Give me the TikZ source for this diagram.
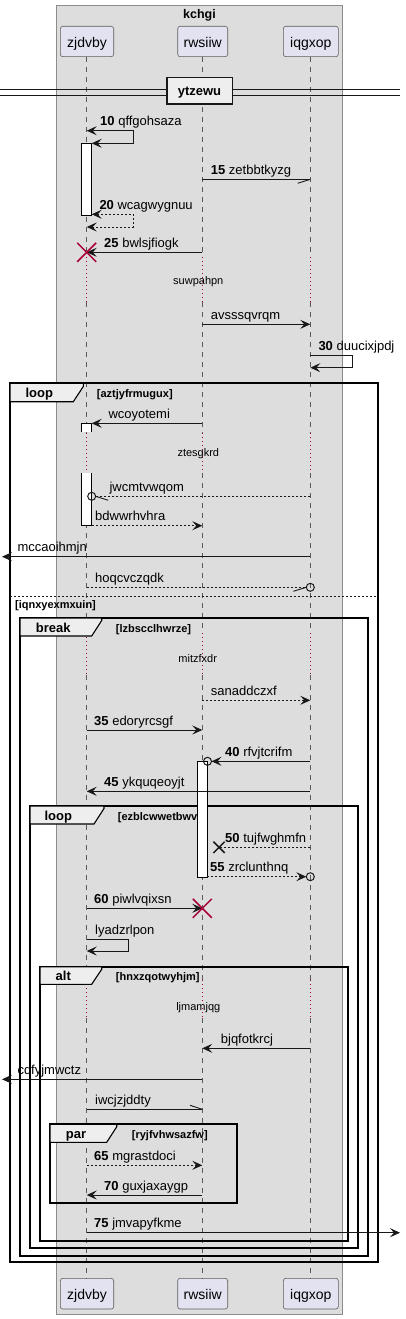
\documentclass[tikz,border=0pt]{standalone}
\usepackage{fontspec}
\setmainfont{Liberation Sans}
\usetikzlibrary{arrows.meta}
\definecolor{bg}{HTML}{DDDDDD}
\definecolor{part}{HTML}{E2E2F0}
\definecolor{tabc}{HTML}{EEEEEE}
\definecolor{pured}{HTML}{A80036}
\definecolor{ink}{HTML}{181818}
\begin{document}
\begin{tikzpicture}[x=1pt,y=-1pt,
  >={Stealth[length=10pt,width=9pt,inset=4pt]},
  msg/.style={draw=ink,line width=0.9pt},
  dmsg/.style={msg,dash pattern=on 2pt off 2pt},
  life/.style={draw=black!65,line width=0.7pt,dash pattern=on 5pt off 5pt},
  dly/.style={draw=pured,line width=0.8pt,dash pattern=on 1pt off 3pt},
  lbl/.style={anchor=base west,inner sep=0pt,font=\fontsize{13pt}{15pt}\selectfont},
  dtext/.style={anchor=base,inner sep=0pt,font=\fontsize{11pt}{13pt}\selectfont},
  ptext/.style={anchor=base,inner sep=0pt,font=\fontsize{14pt}{16pt}\selectfont},
  pbox/.style={draw=ink!70,fill=part,line width=0.6pt,rounded corners=2.5pt},
  frame/.style={draw=black,line width=1.8pt},
  tabbox/.style={draw=black,fill=tabc,line width=1.1pt},
  ftext/.style={anchor=base,inner sep=0pt,font=\bfseries\fontsize{13pt}{15pt}\selectfont},
  ctext/.style={anchor=base west,inner sep=0pt,font=\bfseries\fontsize{11pt}{13pt}\selectfont},
  act/.style={draw=black,fill=white,line width=0.8pt},
  redx/.style={draw=pured,line width=1.5pt},
  blkx/.style={draw=ink,line width=1.5pt},
  halfa/.style={draw=ink,line width=0.9pt},
  circ/.style={draw=ink,line width=1pt}
]
\useasboundingbox (0,0) rectangle (406,1319);
% box
\draw[draw=black!45,fill=bg,line width=0.8pt] (56.7,5.7) rectangle (342.7,1314);
\node[anchor=base,inner sep=0pt,font=\bfseries\fontsize{12.5pt}{14pt}\selectfont] (title) at (199.5,18.5) {kchgi};
% participants
\draw[pbox] (60.3,26.3) rectangle (113.7,56.7);
\draw[pbox] (177.7,26.3) rectangle (227.7,56.7);
\draw[pbox] (283.3,26.3) rectangle (338.3,56.7);
\node[ptext] (pa) at (87,48) {zjdvby};
\node[ptext] (pb) at (202.7,48) {rwsiiw};
\node[ptext] (pc) at (310.8,48) {iqgxop};
\draw[pbox] (60.3,1278.3) rectangle (113.7,1309);
\draw[pbox] (177.7,1278.3) rectangle (227.7,1309);
\draw[pbox] (283.3,1278.3) rectangle (338.3,1309);
\node[ptext] (pa2) at (87,1299.5) {zjdvby};
\node[ptext] (pb2) at (202.7,1299.5) {rwsiiw};
\node[ptext] (pc2) at (310.8,1299.5) {iqgxop};
% lifelines
\foreach \x in {86.7,202.3,310.3}{
  \draw[life] (\x,56.7) -- (\x,257);
  \draw[dly] (\x,257) -- (\x,302);
  \draw[life] (\x,302) -- (\x,433);
  \draw[dly] (\x,433) -- (\x,473);
  \draw[life] (\x,473) -- (\x,633);
  \draw[dly] (\x,633) -- (\x,675);
  \draw[life] (\x,675) -- (\x,980);
  \draw[dly] (\x,980) -- (\x,1018);
  \draw[life] (\x,1018) -- (\x,1278.3);
}
% divider
\draw[draw=ink,line width=0.8pt] (0,89.7) -- (400,89.7);
\draw[draw=ink,line width=0.8pt] (0,95) -- (400,95);
\draw[draw=ink,fill=tabc,line width=1.6pt] (166.7,77.7) rectangle (232.3,104.3);
\node[ftext] (div) at (199.5,95.5) {ytzewu};
% activation 1
\draw[act] (81.3,143.3) rectangle (91.7,215.3);
% 10
\draw[msg,<->] (86.7,130.7) -- (133.3,130.7) -- (133.3,143.3) -- (91.7,143.3);
\node[lbl] (m10) at (100,125.7) {\textbf{10} qffgohsaza};
% 15
\draw[msg] (202.3,179.3) -- (310.3,179.3);
\draw[halfa] (310.3,179.3) -- (297.7,183.3);
\node[lbl] (m15) at (210.7,174.3) {\textbf{15} zetbbtkyzg};
% 20
\draw[dmsg,<->] (91.7,214.3) -- (133.3,214.3) -- (133.3,227) -- (86.7,227);
\node[lbl] (m20) at (99.3,209.3) {\textbf{20} wcagwygnuu};
% 25
\draw[msg,->] (202.3,252.3) -- (86.7,252.3);
\draw[redx] (77.2,242.8) -- (96.2,261.8) (77.2,261.8) -- (96.2,242.8);
\node[lbl] (m25) at (104,247.3) {\textbf{25} bwlsjfiogk};
% delay 1
\node[dtext] (d1) at (198.3,284.5) {suwpahpn};
% avsssqvrqm
\draw[msg,->] (202.3,324.3) -- (310.3,324.3);
\node[lbl] (m26) at (210.7,319.3) {avsssqvrqm};
% 30
\draw[msg,->] (310.3,355.7) -- (352.3,355.7) -- (352.3,367.7) -- (310.3,367.7);
\node[lbl] (m30) at (318.3,350.7) {\textbf{30} duucixjpdj};
% loop frame
\draw[frame] (10,383.3) rectangle (378.3,1262.3);
\draw[tabbox] (10,383.3) -- (83.3,383.3) -- (83.3,386.5) -- (73.3,401.7) -- (10,401.7) -- cycle;
\node[ftext] (f1) at (39.3,397) {loop};
\node[ctext] (c1) at (96.7,397) {[aztjyfrmugux]};
% wcoyotemi
\fill[white] (81.3,423.3) rectangle (91.7,431.7);
\draw[draw=black,line width=0.8pt] (81.3,431.7) -- (81.3,423.3) -- (91.7,423.3) -- (91.7,431.7);
\fill[white] (81.3,473.3) rectangle (91.7,525.7);
\draw[draw=black,line width=0.8pt] (81.3,473.3) -- (81.3,525.7) -- (91.7,525.7) -- (91.7,473.3);
\draw[msg,->] (202.3,423.3) -- (91.7,423.3);
\node[lbl] (m31) at (108.3,418.3) {wcoyotemi};
\node[dtext] (d2) at (198.3,456.5) {ztesgkrd};
% jwcmtvwqom
\draw[dmsg] (310.3,496.3) -- (95.7,496.3);
\draw[circ] (91.7,496.3) circle[radius=4];
\draw[halfa] (95.7,496.3) -- (108.3,500.3);
\node[lbl] (m32) at (109.3,491.3) {jwcmtvwqom};
% bdwwrhvhra
\draw[dmsg,->] (91.7,525.7) -- (202.3,525.7);
\node[lbl] (m33) at (95,520.7) {bdwwrhvhra};
% mccaoihmjn
\draw[msg,->] (310.3,556.7) -- (2,556.7);
\node[lbl] (m34) at (17.3,551.7) {mccaoihmjn};
% hoqcvczqdk
\draw[dmsg] (86.7,587.3) -- (306.3,587.3);
\draw[circ] (310.3,587.3) circle[radius=4];
\draw[halfa] (306.3,587.3) -- (293.3,591.3);
\node[lbl] (m35) at (95,582.3) {hoqcvczqdk};
% else
\draw[draw=ink,line width=0.8pt,dash pattern=on 2pt off 2pt] (10,596.7) -- (378.3,596.7);
\node[ctext] (c1b) at (15,608.5) {[iqnxyexmxuin]};
% break frame
\draw[frame] (20,618) rectangle (368.3,1255.7);
\draw[tabbox] (20,618) -- (101.7,618) -- (101.7,620.5) -- (91.7,636) -- (20,636) -- cycle;
\node[ftext] (f2) at (53.3,632) {break};
\node[ctext] (c2) at (115.7,632) {[lzbscclhwrze]};
\node[dtext] (d3) at (197.7,662) {mitzfxdr};
% sanaddczxf
\draw[dmsg,->] (202.3,700.3) -- (310.3,700.3);
\node[lbl] (m36) at (210.7,695.3) {sanaddczxf};
% 35
\draw[msg,->] (86.7,730) -- (202.3,730);
\node[lbl] (m37) at (94,725) {\textbf{35} edoryrcsgf};
% loop2 frame
\draw[frame] (30,806) rectangle (358.3,1248.3);
\draw[tabbox] (30,806) -- (104,806) -- (104,808.5) -- (94,824) -- (30,824) -- cycle;
\node[ftext] (f3) at (58.3,820.5) {loop};
\node[ctext] (c3) at (117.7,820.5) {[ezblcwwetbwv]};
% activation 3
\draw[act] (197.7,761.7) rectangle (207.3,877.3);
% 40
\draw[msg,->] (310.3,761.3) -- (211.5,761.3);
\draw[circ] (207.5,761.3) circle[radius=4];
\node[lbl] (m40) at (225,756.3) {\textbf{40} rfvjtcrifm};
% 45
\draw[msg,->] (310.3,791.3) -- (86.7,791.3);
\node[lbl] (m45) at (104,786.3) {\textbf{45} ykquqeoyjt};
% 50
\draw[dmsg] (310.3,847.3) -- (219,847.3);
\draw[blkx] (213.4,841.7) -- (224.6,852.9) (213.4,852.9) -- (224.6,841.7);
\node[lbl] (m50) at (225,842.3) {\textbf{50} tujfwghmfn};
% 55
\draw[dmsg,->] (207.3,876.7) -- (306.3,876.7);
\draw[circ] (310.3,876.7) circle[radius=4];
\node[lbl] (m55) at (210,871.7) {\textbf{55} zrclunthnq};
% 60
\draw[msg,->] (86.7,908.3) -- (202.3,908.3);
\draw[redx] (192.8,898.8) -- (211.8,917.8) (192.8,917.8) -- (211.8,898.8);
\node[lbl] (m60) at (94,903.3) {\textbf{60} piwlvqixsn};
% lyadzrlpon
\draw[msg,->] (86.7,939) -- (128.3,939) -- (128.3,951) -- (86.7,951);
\node[lbl] (m61) at (95,934) {lyadzrlpon};
% alt frame
\draw[frame] (40,966.7) rectangle (348.3,1241);
\draw[tabbox] (40,966.7) -- (101.7,966.7) -- (101.7,969.2) -- (91.7,984.3) -- (40,984.3) -- cycle;
\node[ftext] (f4) at (63.3,980.5) {alt};
\node[ctext] (c4) at (115.7,980.5) {[hnxzqotwyhjm]};
\node[dtext] (d4) at (198.3,1010) {ljmamjqg};
% bjqfotkrcj
\draw[msg,->] (310.3,1048.3) -- (202.3,1048.3);
\node[lbl] (m62) at (220.7,1043.3) {bjqfotkrcj};
% cdfyjmwctz
\draw[msg,->] (202.3,1079.3) -- (2,1079.3);
\node[lbl] (m63) at (17.3,1074.3) {cdfyjmwctz};
% iwcjzjddty
\draw[msg] (86.7,1109.3) -- (202.3,1109.3);
\draw[halfa] (202.3,1109.3) -- (190,1105.3);
\node[lbl] (m64) at (95,1104.3) {iwcjzjddty};
% par frame
\draw[frame] (50,1124.3) rectangle (237.3,1203.3);
\draw[tabbox] (50,1124.3) -- (116.7,1124.3) -- (116.7,1126.8) -- (106.7,1142.3) -- (50,1142.3) -- cycle;
\node[ftext] (f5) at (76,1138) {par};
\node[ctext] (c5) at (131.7,1138) {[ryjfvhwsazfw]};
% 65
\draw[dmsg,->] (86.7,1165.3) -- (202.3,1165.3);
\node[lbl] (m65) at (94,1160.3) {\textbf{65} mgrastdoci};
% 70
\draw[msg,->] (202.3,1195) -- (86.7,1195);
\node[lbl] (m70) at (104,1190) {\textbf{70} guxjaxaygp};
% 75
\draw[msg,->] (86.7,1232.7) -- (400,1232.7);
\node[lbl] (m75) at (94,1227.7) {\textbf{75} jmvapyfkme};
\end{tikzpicture}
\end{document}
